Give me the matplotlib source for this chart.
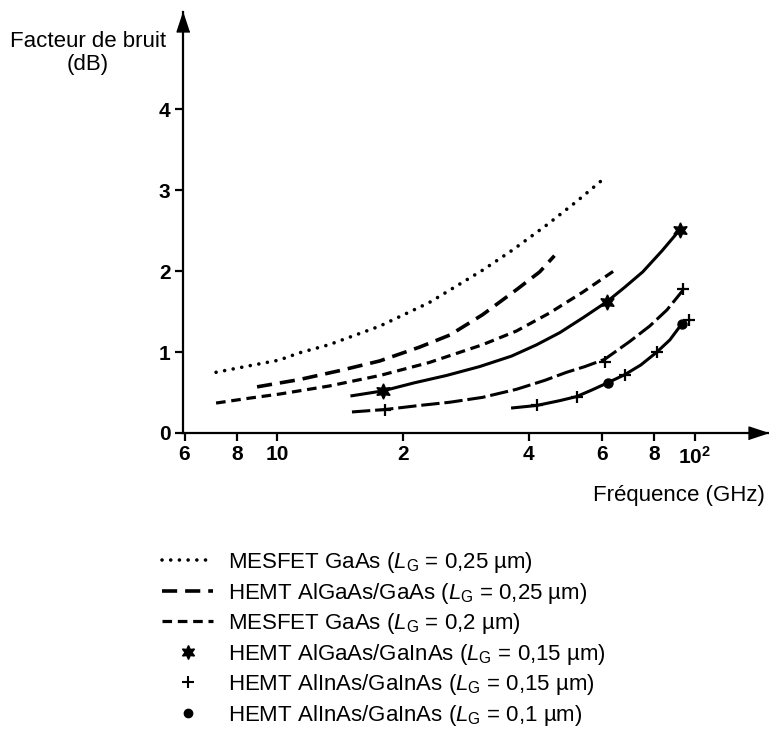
import matplotlib
matplotlib.use("Agg")
import matplotlib.pyplot as plt
from matplotlib.lines import Line2D
from matplotlib.legend_handler import HandlerLine2D
from matplotlib.ticker import FixedLocator, FixedFormatter, NullLocator

plt.rcParams['font.family'] = ['Liberation Sans', 'DejaVu Sans']
plt.rcParams['mathtext.fontset'] = 'custom'
plt.rcParams['mathtext.rm'] = 'Liberation Sans'
plt.rcParams['mathtext.it'] = 'Liberation Sans:italic'
plt.rcParams['mathtext.bf'] = 'Liberation Sans:bold'

# Values: frequency (GHz), noise figure (dB)
f_mesfet_025 = [7.14, 8.57, 10.1, 11.3, 13.3, 17.6, 23.1, 31.0, 36.6, 44.2, 52.1, 60.8]
nf_mesfet_025 = [0.75, 0.83, 0.90, 0.99, 1.09, 1.32, 1.61, 2.01, 2.26, 2.57, 2.86, 3.15]

f_hemt_gaas = [8.95, 11.3, 14.1, 17.6, 21.9, 25.9, 31.0, 37.4, 42.5, 46.1]
nf_hemt_gaas = [0.57, 0.66, 0.77, 0.89, 1.06, 1.21, 1.46, 1.77, 1.99, 2.19]

f_mesfet_02 = [7.14, 8.57, 10.1, 13.3, 17.6, 23.1, 31.0, 37.4, 44.8, 53.9, 64.3]
nf_mesfet_02 = [0.37, 0.43, 0.48, 0.58, 0.71, 0.87, 1.09, 1.26, 1.48, 1.74, 2.01]

f_algaas_015 = [15.1, 17.9, 21.3, 25.4, 30.5, 36.4, 41.8, 47.5, 54.2, 61.5,
                67.9, 75.0, 83.4, 92.0]
nf_algaas_015 = [0.46, 0.52, 0.62, 0.71, 0.82, 0.95, 1.09, 1.24, 1.43, 1.62,
                 1.80, 1.99, 2.25, 2.51]
f_algaas_015_pts = [17.9, 61.5, 92.0]
nf_algaas_015_pts = [0.52, 1.62, 2.51]

f_alinas_015 = [15.1, 18.1, 21.9, 25.9, 31.0, 37.4, 43.7, 49.3, 54.5, 60.8,
                69.8, 77.9, 85.7, 93.5]
nf_alinas_015 = [0.26, 0.29, 0.34, 0.38, 0.44, 0.54, 0.65, 0.75, 0.82, 0.91,
                 1.13, 1.32, 1.52, 1.76]
f_alinas_015_pts = [18.1, 60.8, 93.5]
nf_alinas_015_pts = [0.29, 0.88, 1.78]

f_alinas_01 = [36.6, 41.8, 47.5, 52.1, 56.6, 61.8, 67.9, 74.2, 81.1, 87.1, 93.1]
nf_alinas_01 = [0.31, 0.34, 0.40, 0.45, 0.53, 0.62, 0.72, 0.84, 1.00, 1.15, 1.35]
f_alinas_01_plus = [41.8, 52.1, 67.9, 81.1, 96.8]
nf_alinas_01_plus = [0.34, 0.45, 0.72, 1.00, 1.40]
f_alinas_01_dots = [61.8, 93.1]
nf_alinas_01_dots = [0.62, 1.35]

x_ticks = [6, 8, 10, 20, 40, 60, 80, 100]
x_ticklabels = ['6', '8', '10', '2', '4', '6', '8', r'$\mathbf{10^2}$']
y_ticks = [0, 1, 2, 3, 4]

legend_labels = [
    r'MESFET GaAs ($L_{\mathrm{G}}$ = 0,25 µm)',
    r'HEMT AlGaAs/GaAs ($L_{\mathrm{G}}$ = 0,25 µm)',
    r'MESFET GaAs ($L_{\mathrm{G}}$ = 0,2 µm)',
    r'HEMT AlGaAs/GaInAs ($L_{\mathrm{G}}$ = 0,15 µm)',
    r'HEMT AlInAs/GaInAs ($L_{\mathrm{G}}$ = 0,15 µm)',
    r'HEMT AlInAs/GaInAs ($L_{\mathrm{G}}$ = 0,1 µm)',
]

dotted = (0, (0.01, 2.4))
long_dash = (0, (4.2, 2.2))
short_dash = (0, (3.0, 1.8))
mid_dash = (0, (6.0, 1.6))
star = (6, 1, 0)


class RightMarkerHandler(HandlerLine2D):
    # put the symbol at the right end of the legend sample, as in the original
    def get_xdata(self, legend, xdescent, ydescent, width, height, fontsize):
        xdata, _ = super().get_xdata(legend, xdescent, ydescent, width, height, fontsize)
        return xdata, [-xdescent + width * 0.92]


fig = plt.figure(figsize=(7.69, 7.39), dpi=100)
ax = fig.add_axes([183 / 769, 306 / 739, 585 / 769, 421 / 739])

ax.plot(f_mesfet_025, nf_mesfet_025, color='k', lw=2.6, ls=dotted,
        dash_capstyle='round')
ax.plot(f_hemt_gaas, nf_hemt_gaas, color='k', lw=2.6, ls=long_dash)
ax.plot(f_mesfet_02, nf_mesfet_02, color='k', lw=2.3, ls=short_dash)
ax.plot(f_algaas_015, nf_algaas_015, color='k', lw=2.2)
ax.plot(f_algaas_015_pts, nf_algaas_015_pts, ls='none', marker=star,
        ms=11, color='k', mec='k')
ax.plot(f_alinas_015, nf_alinas_015, color='k', lw=2.2, ls=mid_dash)
ax.plot(f_alinas_015_pts, nf_alinas_015_pts, ls='none', marker='+',
        ms=9, mew=1.6, color='k')
ax.plot(f_alinas_01, nf_alinas_01, color='k', lw=2.2)
ax.plot(f_alinas_01_plus, nf_alinas_01_plus, ls='none', marker='+',
        ms=9, mew=1.6, color='k')
ax.plot(f_alinas_01_dots, nf_alinas_01_dots, ls='none', marker='o',
        ms=6.5, color='k')

ax.set_xscale('log')
ax.set_xlim(5.95, 149.6)
ax.set_ylim(0, 5.2)

ax.xaxis.set_major_locator(FixedLocator(x_ticks))
ax.xaxis.set_major_formatter(FixedFormatter(x_ticklabels))
ax.xaxis.set_minor_locator(NullLocator())
ax.set_yticks(y_ticks)
ax.set_yticklabels([str(v) for v in y_ticks])

for side in ['top', 'right']:
    ax.spines[side].set_visible(False)
for side in ['left', 'bottom']:
    ax.spines[side].set_linewidth(1.6)
ax.tick_params(axis='both', direction='out', length=6, width=1.6,
               labelsize=15, pad=3)
for lab in ax.get_xticklabels() + ax.get_yticklabels():
    lab.set_fontweight('bold')

# arrow heads at the end of both axes
arrow_right = [(0, 0), (-1, 0.33), (-1, -0.33)]
arrow_up = [(0, 0), (-0.33, -1), (0.33, -1)]
ax.plot(1, 0, marker=arrow_right, ms=28, color='k', transform=ax.transAxes,
        clip_on=False)
ax.plot(0, 1, marker=arrow_up, ms=28, color='k', transform=ax.transAxes,
        clip_on=False)

ax.set_xlabel('Fréquence (GHz)', fontsize=16)
ax.xaxis.set_label_coords((765 - 183) / 585, (433 - 495) / 421)
ax.xaxis.label.set_ha('right')
ax.xaxis.label.set_va('center')

ax.set_ylabel('Facteur de bruit\n(dB)', fontsize=16, rotation=0,
              ha='center', va='center', multialignment='center',
              linespacing=1.15)
ax.yaxis.set_label_coords((88 - 183) / 585, (433 - 53) / 421)

handles = [
    Line2D([], [], color='k', lw=2.6, ls=dotted, dash_capstyle='round'),
    Line2D([], [], color='k', lw=2.6, ls=long_dash),
    Line2D([], [], color='k', lw=2.3, ls=short_dash),
    Line2D([], [], ls='none', marker=star, ms=10, color='k'),
    Line2D([], [], ls='none', marker='+', ms=8, mew=1.5, color='k'),
    Line2D([], [], ls='none', marker='o', ms=6, color='k'),
]
fig.legend(handles, legend_labels, loc='upper left',
           bbox_to_anchor=(162 / 769, (739 - 550) / 739),
           frameon=False, fontsize=16, handlelength=2.3, handletextpad=0.65,
           labelspacing=0.25, borderpad=0, borderaxespad=0,
           handler_map={h: RightMarkerHandler() for h in handles[3:]})

fig.savefig('out.png', dpi=100)
